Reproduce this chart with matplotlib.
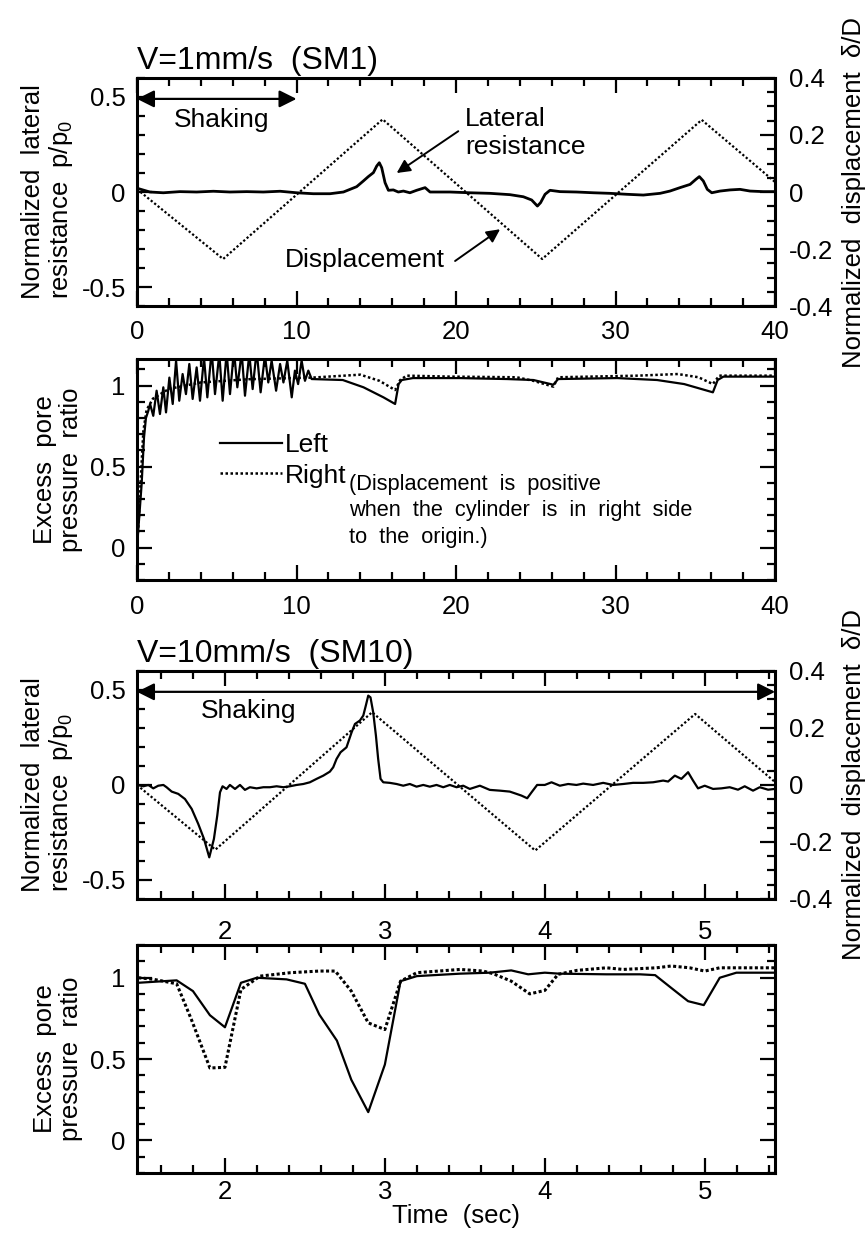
import matplotlib
matplotlib.use("Agg")
import matplotlib.pyplot as plt
from matplotlib.ticker import MultipleLocator, FuncFormatter
from matplotlib.lines import Line2D

plt.rcParams['font.family'] = ['Liberation Sans', 'DejaVu Sans']
plt.rcParams['mathtext.default'] = 'regular'
plt.rcParams['axes.unicode_minus'] = False

# ---- SM1 (V=1mm/s) : lateral resistance & displacement ----
t1_res = [0, 0.81, 1.65, 2.69, 3.74, 4.79, 5.83, 6.88, 7.92, 8.97, 10.01, 11.05, 12.1, 12.94,
          13.77, 14.19, 14.5, 14.82, 15.03, 15.19, 15.34, 15.55, 15.76, 16.07, 16.38, 16.7,
          17.11, 17.53, 18.06, 18.37, 19.0, 19.62, 20.87, 22.13, 23.38, 24.22, 24.74, 25.1,
          25.3, 25.58, 25.89, 26.52, 27.56, 28.61, 29.65, 30.7, 31.74, 32.79, 33.41, 34.04,
          34.67, 35.04, 35.25, 35.5, 35.75, 36.03, 36.55, 37.18, 37.8, 38.43, 39.26, 40.0]
p1_res = [0.02, 0.0, -0.004, 0.002, 0.0, 0.004, 0.0, 0.002, 0.0, 0.004, -0.004, -0.009, -0.009, 0.0,
          0.028, 0.058, 0.081, 0.102, 0.137, 0.154, 0.128, 0.049, 0.009, 0.011, 0.0, 0.005,
          -0.004, 0.009, 0.023, 0.0, 0.0, 0.0, -0.004, -0.007, -0.014, -0.025, -0.042, -0.074,
          -0.056, -0.012, 0.009, 0.002, 0.0, -0.004, -0.007, -0.012, -0.016, -0.007, 0.005, 0.023,
          0.04, 0.067, 0.081, 0.058, 0.014, -0.004, 0.005, 0.011, 0.014, 0.005, 0.002, 0.002]
t1_disp = [0, 5.4, 15.4, 25.4, 35.4, 40]
d1_disp = [0.01, -0.235, 0.255, -0.235, 0.253, 0.035]

# ---- SM1 : excess pore pressure ratio ----
t1_left = [0, 0.29, 0.44, 0.56, 0.71, 0.82, 1.02, 1.23, 1.44, 1.65, 1.82, 2.03, 2.24, 2.45, 2.65,
           2.86, 3.07, 3.28, 3.49, 3.74, 3.95, 4.2, 4.41, 4.68, 4.89, 5.16, 5.37, 5.62, 5.83,
           6.08, 6.29, 6.56, 6.77, 7.04, 7.25, 7.5, 7.75, 8.02, 8.23, 8.44, 8.72, 8.97, 9.18,
           9.42, 9.7, 9.9, 10.1, 10.32, 10.53, 10.74, 10.95, 12.9, 14.2, 15.45, 16.18, 16.4,
           16.6, 17.3, 20.25, 23.2, 24.85, 26.1, 26.4, 30.1, 32.6, 34.3, 36.1, 36.4, 36.76, 40.0]
r1_left = [0.0, 0.39, 0.68, 0.80, 0.845, 0.887, 0.814, 0.969, 0.825, 0.99, 0.835, 1.05, 0.887, 1.155,
           0.907, 1.072, 0.948, 1.134, 0.918, 1.113, 0.907, 1.175, 0.928, 1.216, 0.948, 1.196,
           0.907, 1.206, 0.948, 1.216, 0.99, 1.206, 0.938, 1.196, 0.979, 1.216, 0.959, 1.186,
           1.02, 1.155, 0.969, 1.134, 1.02, 1.155, 0.928, 1.093, 1.01, 1.155, 1.03, 1.093, 1.041,
           1.035, 0.99, 0.928, 0.887, 1.01, 1.035, 1.047, 1.047, 1.041, 1.035, 1.006, 1.041,
           1.047, 1.035, 1.01, 0.959, 1.035, 1.056, 1.056]
t1_right = [0, 0.1, 0.25, 0.4, 0.6, 1.0, 2.0, 4.0, 7.0, 11.0, 14.0, 15.2, 16.18, 16.5, 16.9, 19.6,
            23.8, 24.85, 26.1, 26.4, 31.4, 33.9, 35.2, 36.1, 36.5, 40.0]
r1_right = [0.0, 0.15, 0.45, 0.72, 0.85, 0.92, 0.98, 1.02, 1.04, 1.05, 1.068, 1.03, 0.973, 1.035,
            1.062, 1.056, 1.052, 1.03, 0.994, 1.052, 1.062, 1.072, 1.052, 1.01, 1.062, 1.062]

# ---- SM10 (V=10mm/s) : lateral resistance & displacement ----
t10_res = [1.452, 1.49, 1.521, 1.552, 1.583, 1.615, 1.635, 1.667, 1.708, 1.75, 1.792, 1.833, 1.869,
           1.902, 1.931, 1.952, 1.969, 1.985, 2.01, 2.031, 2.063, 2.094, 2.125, 2.156, 2.198,
           2.24, 2.281, 2.323, 2.365, 2.406, 2.448, 2.49, 2.531, 2.573, 2.615, 2.656, 2.677,
           2.698, 2.723, 2.76, 2.792, 2.813, 2.844, 2.865, 2.881, 2.896, 2.91, 2.927, 2.944,
           2.958, 2.973, 2.99, 3.031, 3.073, 3.115, 3.156, 3.198, 3.24, 3.281, 3.323, 3.365,
           3.406, 3.448, 3.49, 3.531, 3.594, 3.656, 3.719, 3.781, 3.823, 3.854, 3.89, 3.917,
           3.952, 4.0, 4.042, 4.094, 4.146, 4.198, 4.24, 4.302, 4.365, 4.427, 4.49, 4.552, 4.615,
           4.677, 4.74, 4.771, 4.813, 4.854, 4.896, 4.927, 4.958, 5.0, 5.052, 5.104, 5.156,
           5.208, 5.25, 5.302, 5.344, 5.396, 5.437]
p10_res = [0.0, -0.007, 0.0, -0.018, -0.004, 0.0, -0.012, -0.035, -0.047, -0.074, -0.126, -0.205,
           -0.284, -0.381, -0.284, -0.161, -0.039, -0.007, -0.021, 0.0, -0.021, 0.0, -0.026,
           -0.012, -0.018, -0.012, -0.012, -0.007, -0.012, -0.007, 0.0, 0.005, 0.014, 0.032,
           0.049, 0.07, 0.093, 0.137, 0.172, 0.198, 0.277, 0.321, 0.339, 0.365, 0.418, 0.47,
           0.461, 0.382, 0.26, 0.137, 0.032, 0.014, 0.011, 0.005, -0.004, 0.005, -0.009, 0.0,
           -0.009, 0.0, -0.012, 0.0, -0.012, -0.004, -0.021, -0.004, -0.026, -0.03, -0.035,
           -0.047, -0.056, -0.07, -0.039, 0.0, 0.0, 0.014, -0.004, 0.005, 0.0, 0.007, 0.0, 0.011,
           0.0, 0.005, 0.011, 0.011, 0.014, 0.023, 0.018, 0.049, 0.032, 0.067, 0.023, -0.018,
           -0.004, -0.021, -0.018, -0.012, -0.025, -0.007, -0.03, -0.012, -0.025, -0.021]
t10_disp = [1.45, 1.94, 2.92, 3.94, 4.94, 5.44]
d10_disp = [0.0, -0.227, 0.255, -0.23, 0.249, 0.01]

# ---- SM10 : excess pore pressure ratio ----
t10_left = [1.458, 1.698, 1.80, 1.906, 2.0, 2.10, 2.20, 2.385, 2.50, 2.59, 2.70, 2.79, 2.896, 3.0,
            3.098, 3.20, 3.47, 3.656, 3.79, 3.896, 4.0, 4.09, 4.385, 4.594, 4.69, 4.79, 4.896,
            4.994, 5.094, 5.198, 5.437]
r10_left = [0.968, 0.983, 0.917, 0.769, 0.695, 0.968, 0.999, 0.989, 0.962, 0.773, 0.613, 0.373,
            0.174, 0.466, 0.978, 1.009, 1.024, 1.03, 1.044, 1.02, 1.03, 1.024, 1.02, 1.02, 1.015,
            0.937, 0.855, 0.831, 0.999, 1.03, 1.03]
t10_right = [1.458, 1.55, 1.698, 1.79, 1.906, 2.0, 2.10, 2.22, 2.41, 2.59, 2.69, 2.79, 2.896, 3.0,
             3.098, 3.20, 3.47, 3.614, 3.677, 3.79, 3.906, 4.0, 4.083, 4.2, 4.385, 4.49, 4.698,
             4.79, 4.906, 5.0, 5.094, 5.437]
r10_right = [0.999, 0.99, 0.962, 0.743, 0.445, 0.449, 0.927, 1.009, 1.03, 1.04, 1.04, 0.917, 0.722,
             0.681, 0.978, 1.03, 1.05, 1.04, 1.024, 0.978, 0.90, 0.921, 1.02, 1.044, 1.06, 1.05,
             1.06, 1.071, 1.06, 1.04, 1.06, 1.06]

FS_TICK = 18.5
FS_LAB = 18.5
FS_TXT = 19
fmt = FuncFormatter(lambda v, p: "%g" % round(v, 3))


def style_axis(ax, xmaj, xmin, ymaj, ymin, right=True, xpad=10):
    ax.xaxis.set_major_locator(MultipleLocator(xmaj))
    ax.xaxis.set_minor_locator(MultipleLocator(xmin))
    ax.yaxis.set_major_locator(MultipleLocator(ymaj))
    ax.yaxis.set_minor_locator(MultipleLocator(ymin))
    ax.xaxis.set_major_formatter(fmt)
    ax.yaxis.set_major_formatter(fmt)
    ax.tick_params(which='both', direction='in', top=True, right=right, width=1.6)
    ax.tick_params(which='major', length=11, labelsize=FS_TICK)
    ax.tick_params(which='minor', length=6)
    ax.tick_params(axis='y', pad=8)
    ax.tick_params(axis='x', pad=xpad)
    for s in ax.spines.values():
        s.set_linewidth(2.2)


def style_twin(ax2):
    ax2.set_ylim(-0.4, 0.4)
    ax2.yaxis.set_major_locator(MultipleLocator(0.2))
    ax2.yaxis.set_minor_locator(MultipleLocator(0.05))
    ax2.yaxis.set_major_formatter(fmt)
    ax2.tick_params(which='both', direction='in', width=1.6, pad=10)
    ax2.tick_params(which='major', length=11, labelsize=FS_TICK)
    ax2.tick_params(which='minor', length=6)
    lab = ax2.set_ylabel("Normalized  displacement  δ/D", fontsize=FS_LAB, rotation=90)
    lab.set_verticalalignment('top')
    ax2.yaxis.set_label_coords(1.105, 0.5)


def shaking(ax, x0, x1, y, tx, ty):
    ax.annotate('', xy=(x0, y), xytext=(x1, y),
                arrowprops=dict(arrowstyle='<|-|>', mutation_scale=26, lw=1.6, color='k',
                                shrinkA=0, shrinkB=0))
    ax.text(tx, ty, "Shaking", fontsize=FS_TXT, ha='center', va='center')


def left_label(ax, text, align, xc):
    lab = ax.set_ylabel(text, fontsize=FS_LAB, multialignment=align, linespacing=1.1)
    lab.set_verticalalignment('bottom')
    ax.yaxis.set_label_coords(xc, 0.5)


fig = plt.figure(figsize=(8.67, 12.34), dpi=100)
L, W = 0.158, 0.736
ax1 = fig.add_axes([L, 0.7520, W, 0.1848])
ax2 = fig.add_axes([L, 0.5300, W, 0.1791])
ax3 = fig.add_axes([L, 0.2715, W, 0.1848])
ax4 = fig.add_axes([L, 0.0494, W, 0.1848])

# panel 1
ax1.plot(t1_res, p1_res, color='k', lw=2.0)
ax1t = ax1.twinx()
ax1t.plot(t1_disp, d1_disp, color='k', lw=1.6, linestyle=(0, (1, 1)))
ax1.set_xlim(0, 40)
ax1.set_ylim(-0.6, 0.6)
style_axis(ax1, 10, 2, 0.5, 0.1, right=False, xpad=10)
style_twin(ax1t)
left_label(ax1, "Normalized  lateral\nresistance  p/p$_0$", 'left', -0.097)
ax1.text(0, 1.008, "V=1mm/s  (SM1)", transform=ax1.transAxes, fontsize=23, ha='left', va='bottom')
shaking(ax1, 0, 10, 0.49, 5.3, 0.38)
ax1.text(20.56, 0.31, "Lateral\nresistance", fontsize=FS_TXT, ha='left', va='center', linespacing=1.2)
ax1.annotate('', xy=(16.28, 0.10), xytext=(20.14, 0.32),
             arrowprops=dict(arrowstyle='-|>', mutation_scale=20, lw=1.4, color='k',
                             shrinkA=0, shrinkB=0))
ax1.text(9.28, -0.358, "Displacement", fontsize=FS_TXT, ha='left', va='center')
ax1.annotate('', xy=(22.76, -0.196), xytext=(19.94, -0.363),
             arrowprops=dict(arrowstyle='-|>', mutation_scale=20, lw=1.4, color='k',
                             shrinkA=0, shrinkB=0))

# panel 2
ax2.plot(t1_left, r1_left, color='k', lw=1.6)
ax2.plot(t1_right, r1_right, color='k', lw=1.8, linestyle=(0, (1, 1)))
ax2.set_xlim(0, 40)
ax2.set_ylim(-0.2, 1.165)
style_axis(ax2, 10, 2, 0.5, 0.1, xpad=11)
left_label(ax2, "Excess  pore\npressure  ratio", 'center', -0.085)
ax2.legend([Line2D([], [], color='k', lw=1.6), Line2D([], [], color='k', lw=1.8, linestyle=(0, (1, 1)))],
           ["Left", "Right"], loc='upper left', bbox_to_anchor=(0.13, 0.665), frameon=False,
           fontsize=FS_TXT, handlelength=2.35, handletextpad=0.1, labelspacing=0.25,
           borderpad=0, borderaxespad=0)
ax2.text(0.332, 0.48, "(Displacement  is  positive\nwhen  the  cylinder  is  in  right  side\nto  the  origin.)",
         transform=ax2.transAxes, fontsize=15.7, ha='left', va='top', linespacing=1.35)

# panel 3
ax3.plot(t10_res, p10_res, color='k', lw=1.6)
ax3t = ax3.twinx()
ax3t.plot(t10_disp, d10_disp, color='k', lw=1.6, linestyle=(0, (1, 1)))
ax3.set_xlim(1.45, 5.44)
ax3.set_ylim(-0.6, 0.6)
style_axis(ax3, 1, 0.2, 0.5, 0.1, right=False, xpad=15)
style_twin(ax3t)
left_label(ax3, "Normalized  lateral\nresistance  p/p$_0$", 'left', -0.097)
ax3.text(0, 1.008, "V=10mm/s  (SM10)", transform=ax3.transAxes, fontsize=23, ha='left', va='bottom')
shaking(ax3, 1.45, 5.44, 0.49, 2.15, 0.39)

# panel 4
ax4.plot(t10_left, r10_left, color='k', lw=1.6)
ax4.plot(t10_right, r10_right, color='k', lw=2.2, linestyle=(0, (1, 0.8)))
ax4.set_xlim(1.45, 5.44)
ax4.set_ylim(-0.2, 1.2)
style_axis(ax4, 1, 0.2, 0.5, 0.1, xpad=5)
left_label(ax4, "Excess  pore\npressure  ratio", 'center', -0.085)
ax4.set_xlabel("Time  (sec)", fontsize=FS_LAB, labelpad=0)

fig.savefig("out.png", dpi=100)
